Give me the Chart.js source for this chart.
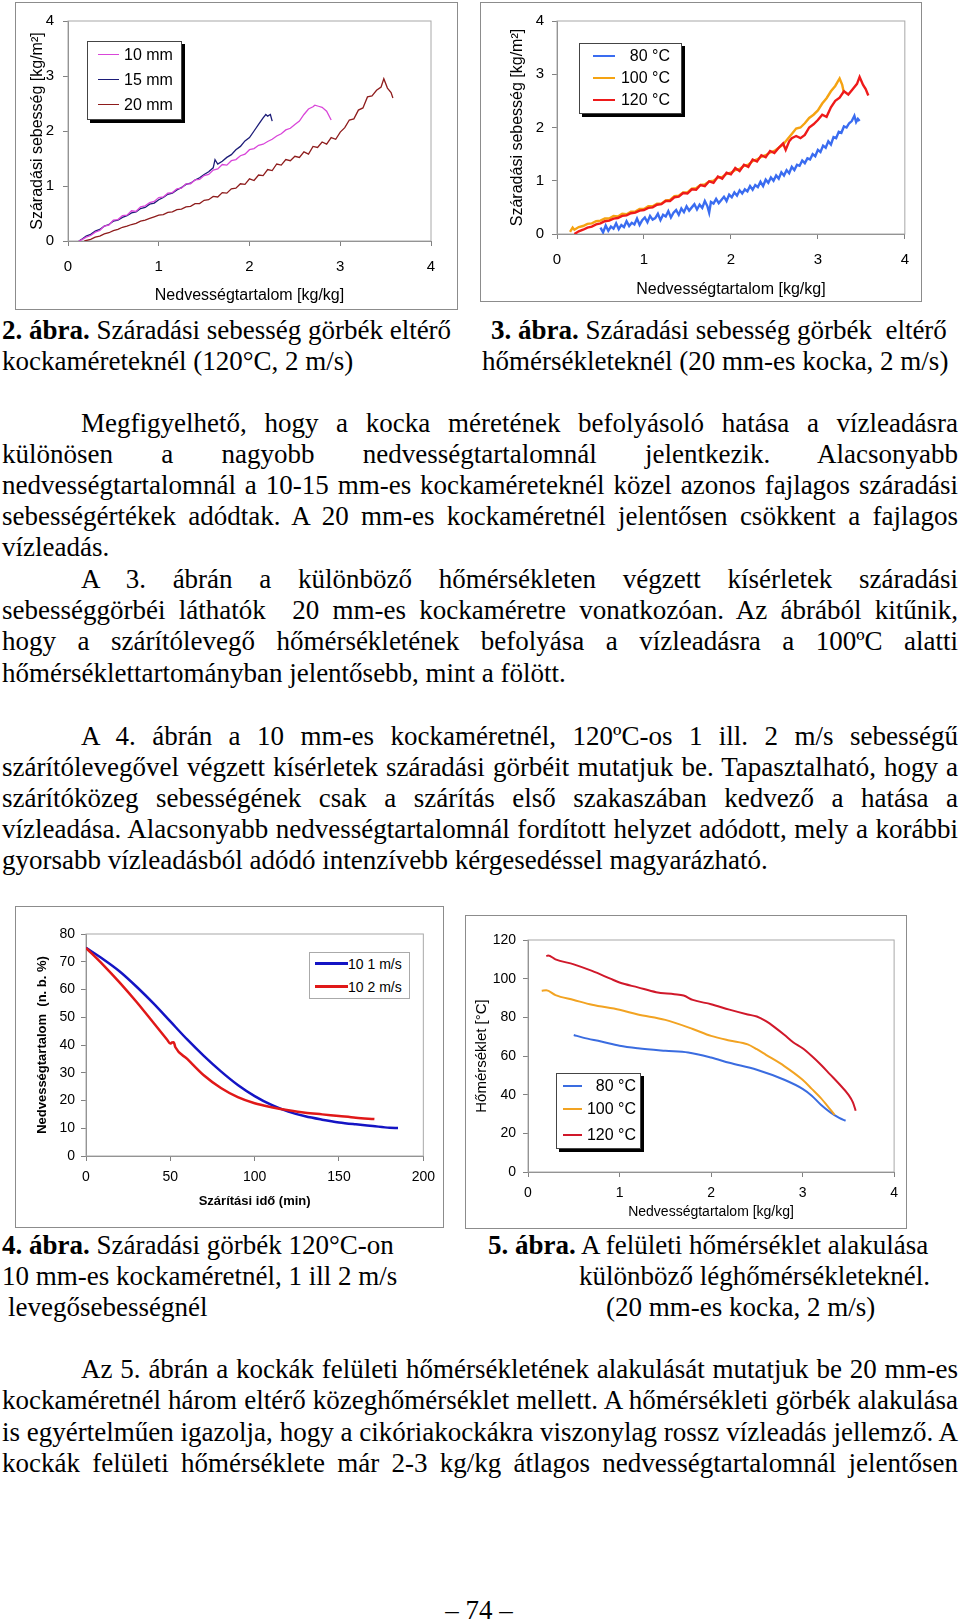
<!DOCTYPE html>
<html>
<head>
<meta charset="utf-8">
<script src="https://cdn.jsdelivr.net/npm/chart.js@4.4.1/dist/chart.umd.min.js"></script>
<style>
body{margin:0;width:960px;height:1622px;position:relative;background:#fff;color:#000;overflow:hidden;font-family:"Liberation Serif","Times New Roman",serif}
.box{position:absolute;border:1px solid #8c8c8c;background:#fff}
.box canvas{display:block}
.t{position:absolute;font-size:27px;line-height:31px;white-space:nowrap}
.j{text-align:justify;text-align-last:justify}
.lg{position:absolute;background:#fff;border:1px solid #444;box-shadow:3px 3px 0 #000;font-family:"Liberation Sans",Arial,sans-serif}
.row{position:absolute;left:0;right:0;height:20px;line-height:20px}
.row i{position:absolute;height:2px;top:9px}
.row span{position:absolute}
</style>
</head>
<body>

<div class="box" style="left:15px;top:2px"><canvas id="c1" width="441" height="306"></canvas></div>
<div class="box" style="left:480px;top:2px"><canvas id="c2" width="440" height="298"></canvas></div>
<div class="box" style="left:15px;top:906px"><canvas id="c3" width="427" height="320"></canvas></div>
<div class="box" style="left:465px;top:915px"><canvas id="c4" width="440" height="312"></canvas></div>

<div class="lg" style="left:87px;top:41px;width:93px;height:77px;font-size:16px">
  <div class="row" style="top:3px"><i style="left:10px;width:21px;height:1px;background:#d946d9"></i><span style="left:36px">10 mm</span></div>
  <div class="row" style="top:28px"><i style="left:10px;width:21px;height:1px;background:#1c1c78"></i><span style="left:36px">15 mm</span></div>
  <div class="row" style="top:53px"><i style="left:10px;width:21px;height:1px;background:#8e1c1c"></i><span style="left:36px">20 mm</span></div>
</div>

<div class="lg" style="left:579px;top:43px;width:101px;height:69px;font-size:16px">
  <div class="row" style="top:2px"><i style="left:13px;width:22px;background:#3a6cf0"></i><span style="right:11px">80 °C</span></div>
  <div class="row" style="top:24px"><i style="left:13px;width:22px;background:#f5a312"></i><span style="right:11px">100 °C</span></div>
  <div class="row" style="top:46px"><i style="left:13px;width:22px;background:#ee1a1a"></i><span style="right:11px">120 °C</span></div>
</div>

<div class="lg" style="left:309px;top:952px;width:99px;height:45px;font-size:14px;border-color:#aaa;box-shadow:none">
  <div class="row" style="top:1px"><i style="left:5px;width:33px;height:3px;top:8px;background:#1414c4"></i><span style="left:38px">10 1 m/s</span></div>
  <div class="row" style="top:24px"><i style="left:5px;width:33px;height:3px;top:8px;background:#e01818"></i><span style="left:38px">10 2 m/s</span></div>
</div>

<div class="lg" style="left:556px;top:1073px;width:83px;height:74px;font-size:16px">
  <div class="row" style="top:2px"><i style="left:6px;width:19px;background:#3a6ce0"></i><span style="right:4px">80 °C</span></div>
  <div class="row" style="top:25px"><i style="left:6px;width:19px;background:#f2a322"></i><span style="right:4px">100 °C</span></div>
  <div class="row" style="top:51px"><i style="left:6px;width:19px;background:#d0182a"></i><span style="right:4px">120 °C</span></div>
</div>

<div class="t" style="left:2px;top:315px"><b>2. ábra.</b> Száradási sebesség görbék eltérő</div>
<div class="t" style="left:2px;top:346px">kockaméreteknél (120°C, 2 m/s)</div>
<div class="t" style="left:491px;top:315px"><b>3. ábra.</b> Száradási sebesség görbék&nbsp; eltérő</div>
<div class="t" style="left:482px;top:346px">hőmérsékleteknél (20 mm-es kocka, 2 m/s)</div>

<div class="t j" style="left:81px;width:877px;top:408px">Megfigyelhető, hogy a kocka méretének befolyásoló hatása a vízleadásra</div>
<div class="t j" style="left:2px;width:956px;top:439px">különösen a nagyobb nedvességtartalomnál jelentkezik. Alacsonyabb</div>
<div class="t j" style="left:2px;width:956px;top:470px">nedvességtartalomnál a 10-15 mm-es kockaméreteknél közel azonos fajlagos száradási</div>
<div class="t j" style="left:2px;width:956px;top:501px">sebességértékek adódtak. A 20 mm-es kockaméretnél jelentősen csökkent a fajlagos</div>
<div class="t" style="left:2px;top:532px">vízleadás.</div>
<div class="t j" style="left:81px;width:877px;top:564px">A 3. ábrán a különböző hőmérsékleten végzett kísérletek száradási</div>
<div class="t j" style="left:2px;width:956px;top:595px">sebességgörbéi láthatók&nbsp; 20 mm-es kockaméretre vonatkozóan. Az ábrából kitűnik,</div>
<div class="t j" style="left:2px;width:956px;top:626px">hogy a szárítólevegő hőmérsékletének befolyása a vízleadásra a 100ºC alatti</div>
<div class="t" style="left:2px;top:658px">hőmérséklettartományban jelentősebb, mint a fölött.</div>
<div class="t j" style="left:81px;width:877px;top:721px">A 4. ábrán a 10 mm-es kockaméretnél, 120ºC-os 1 ill. 2 m/s sebességű</div>
<div class="t j" style="left:2px;width:956px;top:752px">szárítólevegővel végzett kísérletek száradási görbéit mutatjuk be. Tapasztalható, hogy a</div>
<div class="t j" style="left:2px;width:956px;top:783px">szárítóközeg sebességének csak a szárítás első szakaszában kedvező a hatása a</div>
<div class="t j" style="left:2px;width:956px;top:814px">vízleadása. Alacsonyabb nedvességtartalomnál fordított helyzet adódott, mely a korábbi</div>
<div class="t" style="left:2px;top:845px">gyorsabb vízleadásból adódó intenzívebb kérgesedéssel magyarázható.</div>

<div class="t" style="left:2px;top:1230px"><b>4. ábra.</b> Száradási görbék 120°C-on</div>
<div class="t" style="left:2px;top:1261px">10 mm-es kockaméretnél, 1 ill 2 m/s</div>
<div class="t" style="left:8px;top:1292px">levegősebességnél</div>
<div class="t" style="left:488px;top:1230px"><b>5. ábra.</b> A felületi hőmérséklet alakulása</div>
<div class="t" style="left:579px;top:1261px">különböző léghőmérsékleteknél.</div>
<div class="t" style="left:606px;top:1292px">(20 mm-es kocka, 2 m/s)</div>

<div class="t j" style="left:81px;width:877px;top:1354px">Az 5. ábrán a kockák felületi hőmérsékletének alakulását mutatjuk be 20 mm-es</div>
<div class="t j" style="left:2px;width:956px;top:1385px">kockaméretnél három eltérő közeghőmérséklet mellett. A hőmérsékleti görbék alakulása</div>
<div class="t j" style="left:2px;width:956px;top:1417px">is egyértelműen igazolja, hogy a cikóriakockákra viszonylag rossz vízleadás jellemző. A</div>
<div class="t j" style="left:2px;width:956px;top:1448px">kockák felületi hőmérséklete már 2-3 kg/kg átlagos nedvességtartalomnál jelentősen</div>

<div class="t" style="left:0;width:958px;text-align:center;top:1595px">– 74 –</div>

<script>
// 2. ábra: száradási sebesség, kockaméret szerint [nedvességtartalom, sebesség]
const size10 = [[0.12,0],[0.16,0.03],[0.2,0.07],[0.25,0.10],[0.3,0.16],[0.35,0.19],[0.4,0.27],[0.45,0.29],[0.5,0.38],[0.55,0.39],[0.6,0.46],[0.65,0.47],[0.7,0.55],[0.75,0.54],[0.8,0.62],[0.85,0.64],[0.9,0.70],[0.95,0.72],[1.0,0.79],[1.05,0.80],[1.1,0.87],[1.15,0.88],[1.2,0.95],[1.25,0.96],[1.3,1.04],[1.35,1.04],[1.4,1.11],[1.45,1.12],[1.5,1.19],[1.55,1.21],[1.6,1.29],[1.65,1.31],[1.7,1.39],[1.75,1.38],[1.8,1.46],[1.85,1.48],[1.9,1.55],[1.95,1.58],[2.0,1.66],[2.05,1.68],[2.1,1.74],[2.15,1.76],[2.2,1.81],[2.25,1.85],[2.3,1.91],[2.35,1.95],[2.4,2.02],[2.45,2.05],[2.5,2.12],[2.55,2.18],[2.6,2.30],[2.65,2.40],[2.7,2.44],[2.72,2.47],[2.76,2.45],[2.8,2.43],[2.85,2.36],[2.9,2.20]];
const size15 = [[0.12,0],[0.16,0.04],[0.2,0.09],[0.25,0.12],[0.3,0.18],[0.35,0.21],[0.4,0.27],[0.45,0.30],[0.5,0.36],[0.55,0.38],[0.6,0.43],[0.65,0.46],[0.7,0.51],[0.75,0.53],[0.8,0.59],[0.85,0.61],[0.9,0.67],[0.95,0.69],[1.0,0.75],[1.05,0.79],[1.1,0.85],[1.15,0.87],[1.2,0.93],[1.25,0.97],[1.3,1.03],[1.35,1.05],[1.4,1.11],[1.45,1.15],[1.5,1.21],[1.55,1.26],[1.6,1.33],[1.62,1.48],[1.65,1.40],[1.7,1.45],[1.75,1.52],[1.8,1.57],[1.85,1.66],[1.9,1.72],[1.95,1.82],[2.0,1.88],[2.05,2.00],[2.1,2.12],[2.15,2.24],[2.18,2.30],[2.2,2.27],[2.23,2.30],[2.25,2.18]];
const size20 = [[0.18,0],[0.25,0.03],[0.3,0.07],[0.35,0.09],[0.4,0.13],[0.45,0.15],[0.5,0.19],[0.55,0.21],[0.6,0.25],[0.65,0.27],[0.7,0.30],[0.75,0.32],[0.8,0.36],[0.85,0.38],[0.9,0.41],[0.95,0.44],[1.0,0.47],[1.05,0.48],[1.1,0.52],[1.15,0.53],[1.2,0.57],[1.25,0.58],[1.3,0.62],[1.35,0.63],[1.4,0.68],[1.45,0.68],[1.5,0.74],[1.55,0.75],[1.6,0.81],[1.65,0.80],[1.7,0.88],[1.75,0.87],[1.8,0.95],[1.85,0.96],[1.9,1.04],[1.95,1.03],[2.0,1.13],[2.05,1.10],[2.1,1.20],[2.15,1.19],[2.2,1.30],[2.25,1.28],[2.3,1.40],[2.35,1.38],[2.4,1.48],[2.45,1.46],[2.5,1.54],[2.55,1.52],[2.6,1.62],[2.65,1.58],[2.7,1.72],[2.75,1.70],[2.8,1.80],[2.85,1.76],[2.9,1.88],[2.95,1.85],[3.0,1.98],[3.05,2.06],[3.1,2.20],[3.15,2.22],[3.2,2.38],[3.25,2.42],[3.3,2.62],[3.35,2.64],[3.4,2.74],[3.45,2.80],[3.48,2.95],[3.52,2.78],[3.56,2.70],[3.58,2.60]];

// 3. ábra: száradási sebesség, léghőmérséklet szerint
const temp80 = [[0.50,0.12],[0.53,0.03],[0.56,0.16],[0.59,0.06],[0.62,0.14],[0.65,0.10],[0.68,0.20],[0.71,0.09],[0.74,0.17],[0.77,0.13],[0.80,0.24],[0.83,0.15],[0.86,0.21],[0.89,0.18],[0.92,0.29],[0.95,0.17],[0.98,0.26],[1.01,0.31],[1.04,0.22],[1.07,0.34],[1.10,0.27],[1.13,0.30],[1.16,0.38],[1.19,0.26],[1.22,0.36],[1.25,0.33],[1.28,0.43],[1.31,0.31],[1.34,0.40],[1.37,0.45],[1.40,0.36],[1.43,0.48],[1.46,0.41],[1.49,0.52],[1.52,0.44],[1.55,0.50],[1.58,0.56],[1.61,0.46],[1.64,0.55],[1.67,0.49],[1.70,0.62],[1.73,0.52],[1.75,0.40],[1.77,0.60],[1.80,0.57],[1.83,0.66],[1.86,0.58],[1.89,0.64],[1.92,0.70],[1.95,0.62],[1.98,0.74],[2.01,0.69],[2.04,0.78],[2.07,0.72],[2.10,0.82],[2.13,0.76],[2.16,0.84],[2.19,0.80],[2.22,0.90],[2.25,0.83],[2.28,0.92],[2.31,0.88],[2.34,0.98],[2.37,0.90],[2.40,1.02],[2.43,0.96],[2.46,1.06],[2.49,1.00],[2.52,1.10],[2.55,1.04],[2.58,1.16],[2.61,1.10],[2.64,1.20],[2.67,1.14],[2.70,1.26],[2.73,1.20],[2.76,1.30],[2.79,1.28],[2.82,1.38],[2.85,1.33],[2.88,1.42],[2.91,1.40],[2.94,1.50],[2.97,1.46],[3.00,1.58],[3.03,1.54],[3.06,1.66],[3.09,1.62],[3.12,1.74],[3.15,1.68],[3.18,1.82],[3.21,1.80],[3.24,1.92],[3.27,1.90],[3.30,2.02],[3.33,2.00],[3.36,2.08],[3.39,2.12],[3.42,2.22],[3.44,2.10],[3.46,2.16],[3.48,2.12]];
const temp100 = [[0.15,0.04],[0.18,0.12],[0.2,0.08],[0.25,0.13],[0.3,0.15],[0.35,0.19],[0.4,0.20],[0.45,0.24],[0.5,0.25],[0.55,0.29],[0.6,0.29],[0.65,0.34],[0.7,0.33],[0.75,0.38],[0.8,0.37],[0.85,0.42],[0.9,0.42],[0.95,0.47],[1.0,0.47],[1.05,0.52],[1.1,0.52],[1.15,0.57],[1.2,0.57],[1.25,0.63],[1.3,0.64],[1.35,0.71],[1.4,0.72],[1.45,0.78],[1.5,0.78],[1.55,0.85],[1.6,0.86],[1.65,0.92],[1.7,0.93],[1.75,0.99],[1.8,1.00],[1.85,1.06],[1.9,1.07],[1.95,1.13],[2.0,1.15],[2.05,1.20],[2.1,1.22],[2.15,1.28],[2.2,1.30],[2.25,1.37],[2.3,1.40],[2.35,1.45],[2.4,1.48],[2.45,1.53],[2.5,1.56],[2.55,1.62],[2.6,1.68],[2.65,1.78],[2.7,1.88],[2.75,1.98],[2.8,2.00],[2.85,2.08],[2.9,2.18],[2.95,2.24],[3.0,2.32],[3.05,2.45],[3.1,2.55],[3.15,2.68],[3.2,2.78],[3.25,2.92],[3.28,2.80],[3.3,2.65]];
const temp120 = [[0.2,0.00],[0.25,0.05],[0.3,0.08],[0.35,0.12],[0.4,0.14],[0.45,0.18],[0.5,0.20],[0.55,0.24],[0.6,0.25],[0.65,0.29],[0.7,0.30],[0.75,0.34],[0.8,0.35],[0.85,0.39],[0.9,0.40],[0.95,0.44],[1.0,0.45],[1.05,0.49],[1.1,0.50],[1.15,0.55],[1.2,0.56],[1.25,0.62],[1.3,0.62],[1.35,0.69],[1.4,0.70],[1.45,0.77],[1.5,0.76],[1.55,0.84],[1.6,0.83],[1.65,0.92],[1.7,0.90],[1.75,0.99],[1.8,0.96],[1.85,1.08],[1.9,1.04],[1.95,1.15],[2.0,1.12],[2.05,1.24],[2.1,1.18],[2.15,1.30],[2.2,1.26],[2.25,1.40],[2.3,1.36],[2.35,1.48],[2.4,1.44],[2.45,1.56],[2.5,1.52],[2.55,1.62],[2.6,1.70],[2.63,1.58],[2.67,1.74],[2.7,1.80],[2.75,1.84],[2.8,1.80],[2.85,1.86],[2.9,2.00],[2.95,2.06],[3.0,2.14],[3.05,2.24],[3.1,2.20],[3.15,2.38],[3.2,2.50],[3.25,2.56],[3.3,2.68],[3.35,2.62],[3.4,2.72],[3.45,2.82],[3.48,2.95],[3.52,2.80],[3.55,2.72],[3.58,2.60]];

// 4. ábra: nedvességtartalom az idő függvényében [min, %]
const speed1 = [[0,75],[10,71],[20,66.5],[30,61],[40,55],[50,48.5],[60,42],[70,36],[80,30.5],[90,25.6],[100,21.6],[110,18.4],[120,16],[130,14.3],[140,13.1],[150,12.1],[160,11.4],[170,10.8],[180,10.2],[185,10.1]];
const speed2 = [[0,75],[10,69],[20,62.5],[30,55.5],[40,48],[48,42],[50,40.5],[51,40.9],[52,41],[53,39.2],[60,35],[70,29],[80,24.5],[90,21.2],[100,19],[110,17.6],[120,16.5],[130,15.6],[140,15],[150,14.4],[160,13.8],[171,13.3]];

// 5. ábra: felületi hőmérséklet [kg/kg, °C]
const surf80 = [[0.5,70.9],[0.6,69.5],[0.8,67.5],[1.0,65.3],[1.2,64],[1.5,62.7],[1.75,61.8],[2.0,59.2],[2.2,56.5],[2.5,52.9],[2.8,47.7],[3.0,43],[3.1,39.5],[3.2,34.8],[3.3,31],[3.4,28],[3.47,26.5]];
const surf100 = [[0.15,93.7],[0.2,94],[0.3,91.5],[0.5,89],[0.7,86.5],[1.0,83.9],[1.2,81.5],[1.5,78.7],[1.8,74],[2.0,70.4],[2.2,68],[2.4,66],[2.5,63.5],[2.6,60.6],[2.8,54.8],[3.0,47.7],[3.1,43],[3.2,38.2],[3.3,32.5],[3.35,29.6]];
const surf120 = [[0.2,111.7],[0.22,112],[0.3,110],[0.5,107.4],[0.7,104],[0.9,100],[1.0,98],[1.2,95.5],[1.4,93],[1.6,92],[1.7,91.3],[1.8,89],[2.0,86.8],[2.2,84],[2.4,81.5],[2.5,80.4],[2.6,78],[2.7,74.7],[2.8,71],[2.9,67],[3.0,64],[3.1,60],[3.2,55.5],[3.3,50.5],[3.4,45.5],[3.5,40],[3.55,36],[3.58,31.7]];

const sans = '"Liberation Sans", Arial, sans-serif';

const frame = {
    id: 'frame',
    beforeDatasetsDraw(chart) {
        const a = chart.chartArea, ctx = chart.ctx;
        ctx.save();
        ctx.strokeStyle = '#a8a8a8';
        ctx.lineWidth = 1;
        ctx.strokeRect(a.left, a.top, a.right - a.left, a.bottom - a.top);
        ctx.restore();
    }
};

function line(points, color, width, smooth) {
    return {
        data: points.map(p => ({ x: p[0], y: p[1] })),
        showLine: true,
        borderColor: color,
        borderWidth: width,
        pointRadius: 0,
        cubicInterpolationMode: smooth ? 'monotone' : 'default',
        tension: smooth ? 0.4 : 0
    };
}

function axis(o) {
    return {
        type: 'linear',
        min: o.min, max: o.max,
        ticks: { stepSize: o.step, color: '#000', font: { family: sans, size: o.tick }, padding: o.pad },
        grid: { drawOnChartArea: false, color: '#808080', tickLength: 5 },
        border: { color: '#808080' },
        title: { display: true, text: o.title, color: '#000', font: { family: sans, size: o.size, weight: o.bold ? 'bold' : 'normal' }, padding: o.tpad },
        afterFit: o.fit
    };
}

function plot(id, datasets, pad, x, y) {
    new Chart(document.getElementById(id), {
        type: 'scatter',
        data: { datasets: datasets },
        options: {
            responsive: false,
            animation: false,
            layout: { padding: pad },
            plugins: { legend: { display: false }, tooltip: { enabled: false } },
            scales: { x: axis(x), y: axis(y) }
        },
        plugins: [frame]
    });
}

plot('c1',
    [line(size10, '#d946d9', 1.3), line(size15, '#1c1c78', 1.3), line(size20, '#8e1c1c', 1.3)],
    { left: 0, right: 26, top: 17, bottom: 0 },
    { min: 0, max: 4, step: 1, tick: 15, pad: 12, title: 'Nedvességtartalom [kg/kg]', size: 16, tpad: { top: 0, bottom: 4 }, fit: s => { s.height = 68; } },
    { min: 0, max: 4, step: 1, tick: 15, pad: 9, title: 'Száradási sebesség [kg/m²]', size: 16, tpad: { top: 12, bottom: 0 }, fit: s => { s.width = 52; } });

plot('c2',
    [line(temp120, '#ee1a1a', 2.4), line(temp100, '#f5a312', 2.4), line(temp80, '#3a6cf0', 2.4)],
    { left: 0, right: 12, top: 18, bottom: 0 },
    { min: 0, max: 4, step: 1, tick: 15, pad: 12, title: 'Nedvességtartalom [kg/kg]', size: 16, tpad: { top: 0, bottom: 2 }, fit: s => { s.height = 67; } },
    { min: 0, max: 4, step: 1, tick: 15, pad: 8, title: 'Száradási sebesség [kg/m²]', size: 16, tpad: { top: 27, bottom: 0 }, fit: s => { s.width = 76; } });

plot('c3',
    [line(speed2, '#e01818', 2.5, true), line(speed1, '#1414c4', 2.5, true)],
    { left: 0, right: 19, top: 27, bottom: 0 },
    { min: 0, max: 200, step: 50, tick: 14, pad: 8, title: 'Szárítási idő (min)', size: 13, bold: true, tpad: { top: 0, bottom: 18 }, fit: s => { s.height = 71; } },
    { min: 0, max: 80, step: 10, tick: 14, pad: 6, title: 'Nedvességtartalom  (n. b. %)', size: 13, bold: true, tpad: { top: 19, bottom: 0 }, fit: s => { s.width = 70; } });

plot('c4',
    [line(surf120, '#d0182a', 2, true), line(surf100, '#f2a322', 2, true), line(surf80, '#3a6ce0', 2, true)],
    { left: 0, right: 10, top: 24, bottom: 0 },
    { min: 0, max: 4, step: 1, tick: 14, pad: 8, title: 'Nedvességtartalom [kg/kg]', size: 14, tpad: { top: 0, bottom: 7 }, fit: s => { s.height = 56; } },
    { min: 0, max: 120, step: 20, tick: 14, pad: 7, title: 'Hőmérséklet [°C]', size: 15, tpad: { top: 7, bottom: 0 }, fit: s => { s.width = 62; } });
</script>
</body>
</html>
